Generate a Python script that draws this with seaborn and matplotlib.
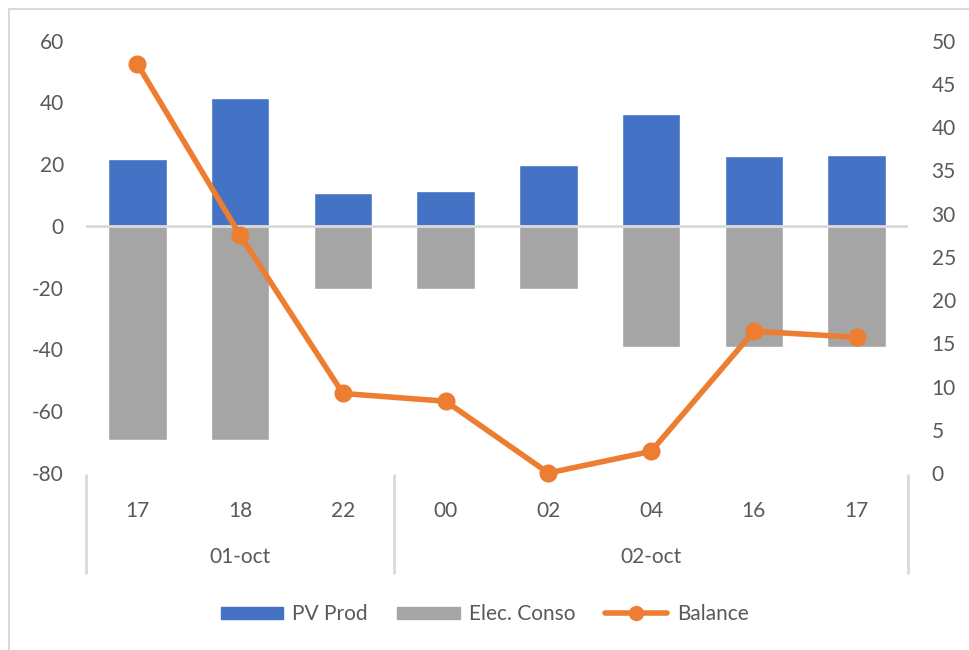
import numpy as np
import pandas as pd
import seaborn as sns
from matplotlib import pyplot as plt
from matplotlib import transforms
from matplotlib.patches import Patch, Rectangle
from matplotlib.lines import Line2D

# data
days = ['01-oct', '01-oct', '01-oct', '02-oct', '02-oct', '02-oct', '02-oct', '02-oct']
hours = ['17', '18', '22', '00', '02', '04', '16', '17']
pv_prod = [21.6, 41.3, 10.6, 11.4, 19.8, 36.1, 22.5, 22.9]
elec_conso = [-69.3, -69.3, -20.3, -20.3, -20.3, -39.3, -39.3, -39.3]
balance = [47.3, 27.5, 9.2, 8.3, 0.0, 2.5, 16.4, 15.7]

blue = '#4472C4'
gray = '#A5A5A5'
orange = '#ED7D31'
text_col = '#595959'
line_col = '#D9D9D9'

df = pd.DataFrame({'slot': [d + ' ' + h for d, h in zip(days, hours)],
                   'pv': pv_prod, 'conso': elec_conso, 'balance': balance})

sns.set_style('white')
plt.rcParams['font.family'] = ['Lato', 'DejaVu Sans']
plt.rcParams['axes.unicode_minus'] = False
fs = 15

fig = plt.figure(figsize=(9.69, 6.5), dpi=100)
ax = fig.add_axes([86 / 969, 1 - 473 / 650, (908 - 86) / 969, (473 - 40.7) / 650])

sns.barplot(data=df, x='slot', y='pv', color=blue, saturation=1, width=0.57, ax=ax, zorder=2)
sns.barplot(data=df, x='slot', y='conso', color=gray, saturation=1, width=0.57, ax=ax, zorder=2)
ax.axhline(0, color=line_col, lw=2, zorder=3)

ax.set_ylim(-80, 60)
ax.set_yticks(np.arange(-80, 61, 20))
ax.set_xlim(-0.5, len(hours) - 0.5)
ax.set_xticks(range(len(hours)))
ax.set_xticklabels(hours)
ax.set_xlabel('')
ax.set_ylabel('')
ax.tick_params(axis='x', length=0, pad=20, labelsize=fs, labelcolor=text_col)
ax.tick_params(axis='y', length=0, pad=16, labelsize=fs, labelcolor=text_col)
for s in ax.spines.values():
    s.set_visible(False)

# balance on the secondary axis
ax2 = ax.twinx()
sns.pointplot(data=df, x='slot', y='balance', color=orange, markers='o', errorbar=None,
              markersize=10, linewidth=4, ax=ax2)
for ln in ax2.lines:
    ln.set_clip_on(False)
ax2.set_ylim(0, 50)
ax2.set_yticks(np.arange(0, 51, 5))
ax2.set_xlim(-0.5, len(hours) - 0.5)
ax2.set_xlabel('')
ax2.set_ylabel('')
ax2.tick_params(axis='y', length=0, pad=17, labelsize=fs, labelcolor=text_col)
ax2.tick_params(axis='x', bottom=False, labelbottom=False)
for s in ax2.spines.values():
    s.set_visible(False)

# two-level category axis: day groups with separators
trans = transforms.blended_transform_factory(ax.transData, fig.transFigure)
groups = []
for d in days:
    if not groups or groups[-1][0] != d:
        groups.append([d, 0])
    groups[-1][1] += 1
start = 0
bounds = [-0.5]
for d, n in groups:
    ax.text(start + (n - 1) / 2, 1 - 557 / 650, d, transform=trans, ha='center', va='center',
            fontsize=fs, color=text_col)
    start += n
    bounds.append(start - 0.5)
for b in bounds:
    ax.plot([b, b], [1 - 475 / 650, 1 - 573 / 650], transform=trans, color=line_col, lw=2,
            clip_on=False)

handles = [Patch(color=blue), Patch(color=gray),
           Line2D([], [], color=orange, lw=4, marker='o', markersize=10)]
fig.legend(handles, ['PV Prod', 'Elec. Conso', 'Balance'], loc='center', bbox_to_anchor=(0.5, 1 - 614 / 650),
           ncol=3, frameon=False, fontsize=fs, labelcolor=text_col, handlelength=3.0, handleheight=0.5,
           handletextpad=0.45, columnspacing=1.4)

# chart border (only top and left edges fall inside the image)
fig.patches.append(Rectangle((9 / 969, -0.5), 2, 0.5 + 1 - 9 / 650, transform=fig.transFigure,
                             fill=False, edgecolor=line_col, lw=1.5))

fig.savefig('out.png', dpi=100)
